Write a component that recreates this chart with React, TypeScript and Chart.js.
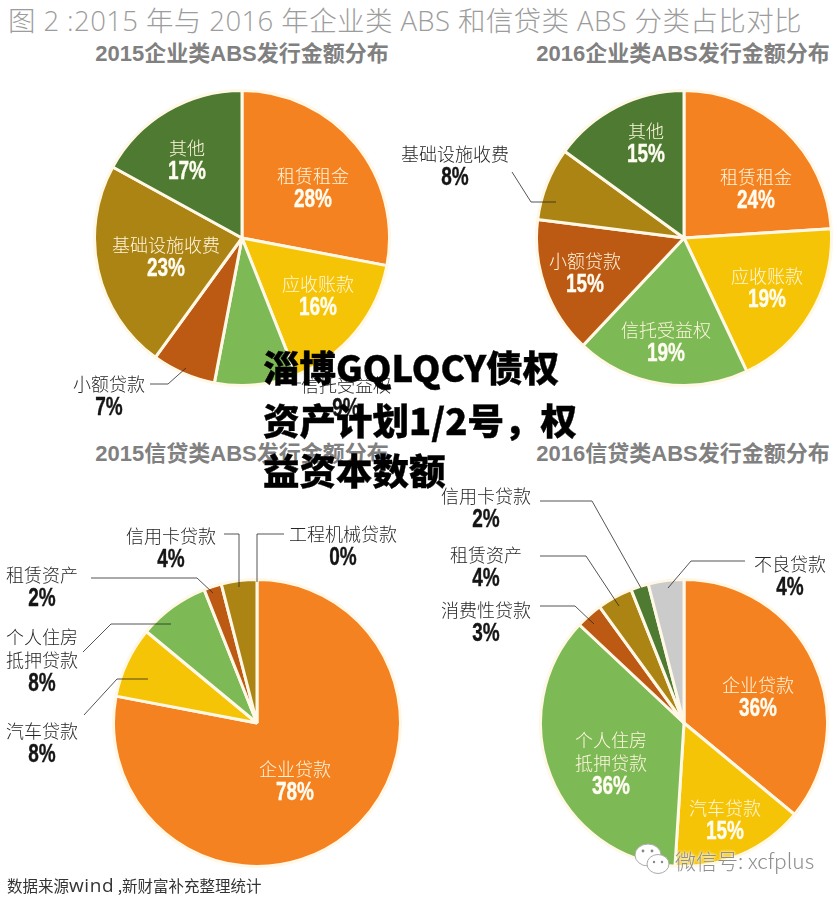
import React, { useEffect, useRef } from "react";
import { Chart, registerables } from "chart.js";

Chart.register(...registerables);

// ---------- data ----------
const ORANGE = "#F58220";
const YELLOW = "#F6C406";
const GREEN = "#7DB955";
const BROWN = "#BC5A14";
const OLIVE = "#AC8413";
const DARK = "#4E7A32";
const GREY = "#CBCBCB";
const EDGE = "#FFF8E6";

const titleText = "图 2 :2015 年与 2016 年企业类 ABS 和信贷类 ABS 分类占比对比";
const sourceParts = ["数据来源", "wind", " ,", "新财富补充整理统计"];
const stampLines = ["淄博GQLQCY债权", "资产计划1/2号，权", "益资本数额"];

const corp2015Names = ["租赁租金", "应收账款", "信托受益权", "小额贷款", "基础设施收费", "其他"];
const corp2015Values = [28, 16, 9, 7, 23, 17];
const corp2015Colors = [ORANGE, YELLOW, GREEN, BROWN, OLIVE, DARK];

const corp2016Names = ["租赁租金", "应收账款", "信托受益权", "小额贷款", "基础设施收费", "其他"];
const corp2016Values = [24, 19, 19, 15, 8, 15];
const corp2016Colors = [ORANGE, YELLOW, GREEN, BROWN, OLIVE, DARK];

const credit2015Names = ["企业贷款", "汽车贷款", "个人住房\n抵押贷款", "租赁资产", "信用卡贷款", "工程机械贷款"];
const credit2015Values = [78, 8, 8, 2, 4, 0];
const credit2015Colors = [ORANGE, YELLOW, GREEN, BROWN, OLIVE, DARK];

const credit2016Names = ["企业贷款", "汽车贷款", "个人住房\n抵押贷款", "消费性贷款", "租赁资产", "信用卡贷款", "不良贷款"];
const credit2016Values = [36, 15, 36, 3, 4, 2, 4];
const credit2016Colors = [ORANGE, YELLOW, GREEN, BROWN, OLIVE, DARK, GREY];

// ---------- layout (label centre: x, y of first line, dark text?) ----------
type Spot = [number, number, boolean];
const corp2015Spots: Spot[] = [[313, 176, false], [318, 284, false], [346, 385, true], [109, 384, true], [166, 245, false], [187, 148, false]];
const corp2016Spots: Spot[] = [[756, 177, false], [767, 276, false], [666, 330, false], [585, 261, false], [455, 154, true], [646, 131, false]];
const credit2015Spots: Spot[] = [[295, 769, false], [42, 731, true], [42, 637, true], [42, 575, true], [171, 536, true], [343, 534, true]];
const credit2016Spots: Spot[] = [[758, 685, false], [725, 808, false], [611, 740, false], [486, 610, true], [486, 555, true], [486, 496, true], [790, 564, true]];

const leaders: number[][][] = [
  [[150, 384], [168, 384], [186, 368]],
  [[278, 383], [301, 383]],
  [[512, 172], [531, 202], [556, 202]],
  [[224, 534], [239, 534], [239, 587]],
  [[284, 534], [257, 534], [257, 582]],
  [[91, 578], [197, 578], [213, 593]],
  [[83, 652], [111, 624], [171, 624]],
  [[84, 715], [117, 679], [148, 679]],
  [[540, 501], [592, 501], [641, 588]],
  [[540, 556], [586, 556], [619, 606]],
  [[540, 606], [575, 606], [594, 624]],
  [[745, 561], [691, 561], [668, 588]],
];

const subtitles: [string, number, number][] = [
  ["2015企业类ABS发行金额分布", 242, 54],
  ["2016企业类ABS发行金额分布", 683, 54],
  ["2015信贷类ABS发行金额分布", 242, 454],
  ["2016信贷类ABS发行金额分布", 683, 454],
];
const stampCentres = [367, 420, 470];

const SANS = '"Noto Sans CJK SC", "Liberation Sans", sans-serif';
const ARIAL = '"Liberation Sans", "Noto Sans CJK SC", sans-serif';
const OPEN = '"Open Sans", "Noto Sans CJK SC", sans-serif';

function Pie(props: { names: string[]; values: number[]; colors: string[]; left: number; top: number; size: number }) {
  const ref = useRef<HTMLCanvasElement | null>(null);
  useEffect(() => {
    const chart = new Chart(ref.current!, {
      type: "pie",
      data: {
        labels: props.names,
        datasets: [{ data: props.values, backgroundColor: props.colors, borderColor: EDGE, borderWidth: 3 }],
      },
      options: {
        animation: false,
        responsive: false,
        layout: { padding: 0 },
        plugins: { legend: { display: false }, tooltip: { enabled: false } },
      },
    });
    return () => chart.destroy();
  }, []);
  return (
    <canvas
      ref={ref}
      width={props.size}
      height={props.size}
      style={{ position: "absolute", left: props.left, top: props.top, width: props.size, height: props.size }}
    />
  );
}

function Labels({ names, values, spots }: { names: string[]; values: number[]; spots: Spot[] }) {
  return (
    <>
      {names.map((name, i) => {
        const [x, y, dark] = spots[i];
        const lines = name.split("\n");
        const color = dark ? "#262626" : "#FFF6DF";
        return (
          <React.Fragment key={i}>
            {lines.map((line, j) => (
              <div
                key={j}
                style={{
                  position: "absolute", left: x, top: y + j * 23 - 1, transform: "translate(-50%,-50%)",
                  font: `300 18px ${SANS}`, lineHeight: "24px", color, whiteSpace: "nowrap",
                }}
              >
                {line}
              </div>
            ))}
            <div
              style={{
                position: "absolute", left: x, top: y + (lines.length - 1) * 23 + 22, transform: "translate(-50%,-50%) scaleX(0.76)",
                font: `bold 25px ${ARIAL}`, lineHeight: "26px", color: dark ? "#151515" : "#FFFDF2", whiteSpace: "nowrap",
                WebkitTextStroke: "0.4px currentColor",
              }}
            >
              {values[i]}%
            </div>
          </React.Fragment>
        );
      })}
    </>
  );
}

export default function App() {
  return (
    <div style={{ position: "absolute", left: 0, top: 0, width: 838, height: 899, background: "#fff", overflow: "hidden" }}>
      <div style={{ position: "absolute", left: 8, top: 2, font: `300 27.5px ${OPEN}`, lineHeight: "38px", color: "#9C9C9C", whiteSpace: "pre", letterSpacing: 0.4 }}>
        {titleText}
      </div>
      {subtitles.map(([text, x, y]) => (
        <div key={text} style={{ position: "absolute", left: x, top: y, transform: "translate(-50%,-50%)", font: `bold 22px ${ARIAL}`, lineHeight: "26px", color: "#808080", whiteSpace: "nowrap" }}>
          {text}
        </div>
      ))}

      <Pie names={corp2015Names} values={corp2015Values} colors={corp2015Colors} left={93} top={89} size={298} />
      <Pie names={corp2016Names} values={corp2016Values} colors={corp2016Colors} left={535} top={89} size={298} />
      <Pie names={credit2015Names} values={credit2015Values} colors={credit2015Colors} left={112} top={578} size={290} />
      <Pie names={credit2016Names} values={credit2016Values} colors={credit2016Colors} left={539} top={578} size={290} />

      <svg width={838} height={899} style={{ position: "absolute", left: 0, top: 0 }}>
        {leaders.map((pts, i) => (
          <polyline key={i} points={pts.map((p) => p.join(",")).join(" ")} fill="none" stroke="#2a2a2a" strokeWidth={0.8} />
        ))}
      </svg>

      <Labels names={corp2015Names} values={corp2015Values} spots={corp2015Spots} />
      <Labels names={corp2016Names} values={corp2016Values} spots={corp2016Spots} />
      <Labels names={credit2015Names} values={credit2015Values} spots={credit2015Spots} />
      <Labels names={credit2016Names} values={credit2016Values} spots={credit2016Spots} />

      <div style={{ position: "absolute", left: 7, top: 872, font: `400 15.5px ${SANS}`, lineHeight: "22px", color: "#333", whiteSpace: "pre" }}>
        {sourceParts[0]}
        <span style={{ font: `400 19px ${OPEN}`, letterSpacing: 0.6 }}>{sourceParts[1]}</span>
        {sourceParts[2]}
        {sourceParts[3]}
      </div>

      {stampLines.map((line, i) => (
        <div key={line} style={{ position: "absolute", left: 263, top: stampCentres[i], transform: "translateY(-50%)", font: `900 36.5px ${SANS}`, lineHeight: "52px", color: "#000", whiteSpace: "nowrap", WebkitTextStroke: "0.4px #000" }}>
          {line}
        </div>
      ))}

      <svg width={838} height={899} style={{ position: "absolute", left: 0, top: 0 }}>
        <ellipse cx={648} cy={855} rx={13} ry={11} fill="#fff" stroke="#aaa" strokeWidth={1} />
        <ellipse cx={658} cy={864} rx={11} ry={9.5} fill="#fff" stroke="#aaa" strokeWidth={1} />
        <circle cx={643} cy={851} r={1.4} fill="#888" />
        <circle cx={652} cy={851} r={1.4} fill="#888" />
        <circle cx={654} cy={862} r={1.2} fill="#888" />
        <circle cx={662} cy={862} r={1.2} fill="#888" />
      </svg>
      <div style={{ position: "absolute", left: 675, top: 846, font: `300 21px ${SANS}`, lineHeight: "28px", color: "#8f8f8f", whiteSpace: "nowrap", textShadow: "0 0 3px #fff, 0 0 3px #fff" }}>
        微信号: xcfplus
      </div>
    </div>
  );
}
